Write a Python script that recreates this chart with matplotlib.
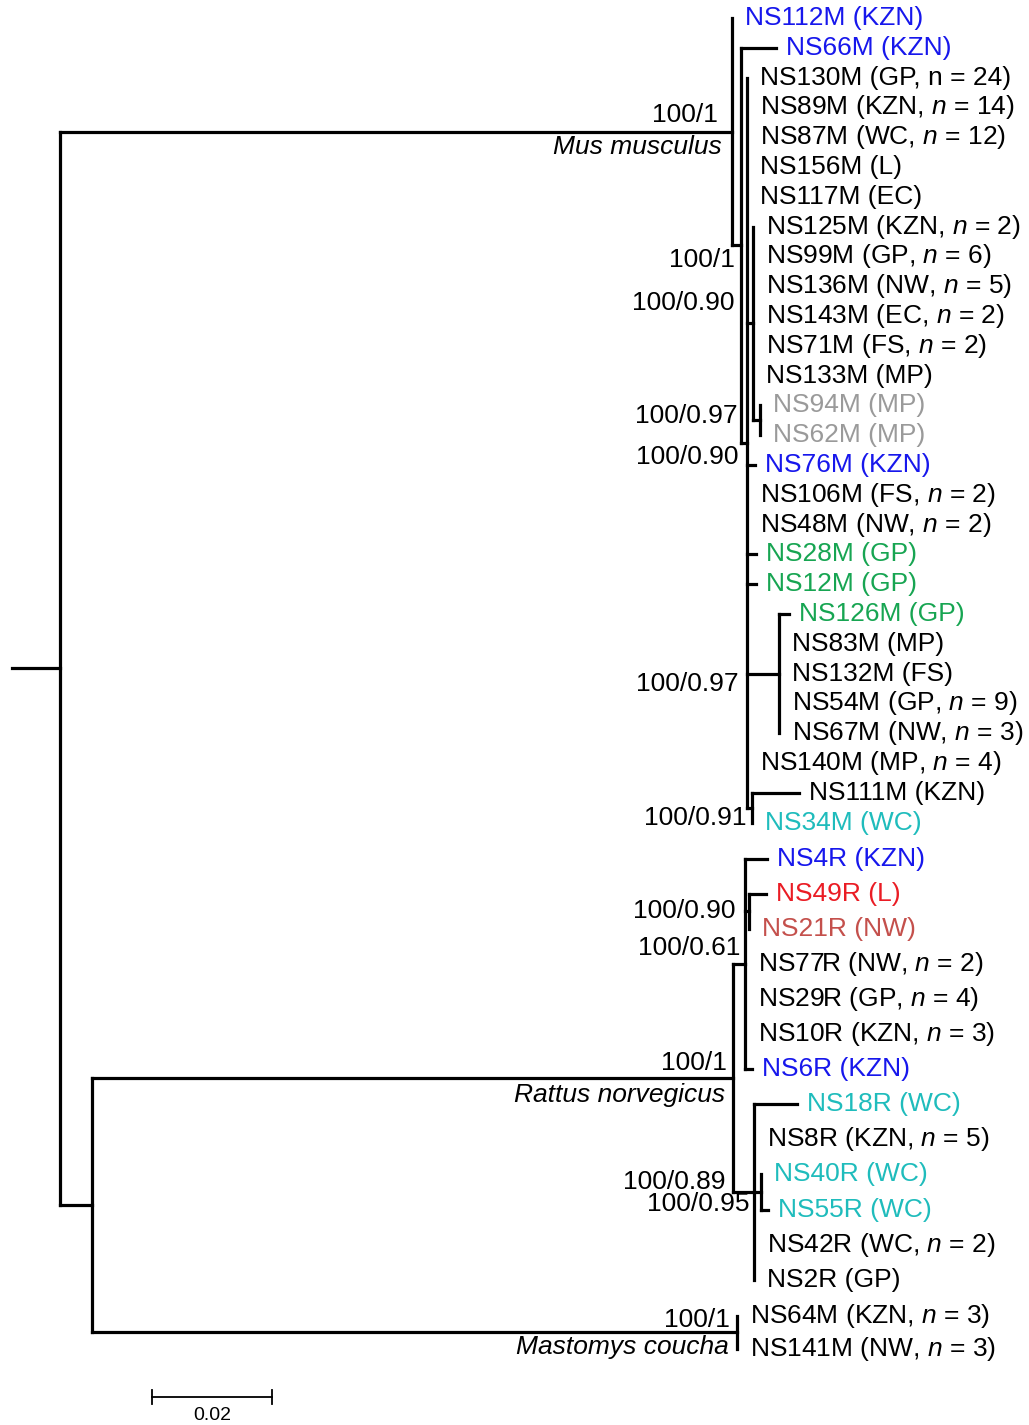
import matplotlib
matplotlib.use("Agg")
import matplotlib.pyplot as plt
from matplotlib.collections import LineCollection

plt.rcParams['font.family'] = ['Liberation Sans', 'DejaVu Sans']
plt.rcParams['mathtext.fontset'] = 'custom'
plt.rcParams['mathtext.rm'] = 'Liberation Sans'
plt.rcParams['mathtext.it'] = 'Liberation Sans:italic'

# tree with branch lengths (substitutions/site), internal nodes named
newick = ("((NS112M:0,(NS66M:0.0058,(NS130M:0,NS89M:0,NS87M:0,NS156M:0,NS117M:0,"
          "(NS125M:0,NS99M:0,NS136M:0,NS143M:0,NS71M:0,NS133M:0,(NS94M:0,NS62M:0)N94:0.0012)M4:0.001,"
          "NS76M:0.0013,NS106M:0,NS48M:0,NS28M:0.0015,NS12M:0.0015,"
          "(NS126M:0.0017,NS83M:0,NS132M:0,NS54M:0,NS67M:0)N126:0.0053,NS140M:0,"
          "(NS111M:0.0078,NS34M:0)N111:0.0008)M2:0.001)M1:0.0015)Mus:0.112,"
          "(((NS4R:0.0037,(NS49R:0.0027,NS21R:0)R2:0.0008,NS77R:0,NS29R:0,NS10R:0,NS6R:0.0013)R1:0.002,"
          "(NS18R:0.0072,NS8R:0,(NS40R:0,NS55R:0.0012)R4:0.0012,NS42R:0,NS2R:0)R3:0.0035)Rattus:0.1068,"
          "(NS64M:0,NS141M:0)Mastomys:0.1075)RM:0.0053)root:0.008;")

region = {"NS112M": "KZN", "NS66M": "KZN", "NS130M": "GP", "NS89M": "KZN", "NS87M": "WC",
          "NS156M": "L", "NS117M": "EC", "NS125M": "KZN", "NS99M": "GP", "NS136M": "NW",
          "NS143M": "EC", "NS71M": "FS", "NS133M": "MP", "NS94M": "MP", "NS62M": "MP",
          "NS76M": "KZN", "NS106M": "FS", "NS48M": "NW", "NS28M": "GP", "NS12M": "GP",
          "NS126M": "GP", "NS83M": "MP", "NS132M": "FS", "NS54M": "GP", "NS67M": "NW",
          "NS140M": "MP", "NS111M": "KZN", "NS34M": "WC", "NS4R": "KZN", "NS49R": "L",
          "NS21R": "NW", "NS77R": "NW", "NS29R": "GP", "NS10R": "KZN", "NS6R": "KZN",
          "NS18R": "WC", "NS8R": "KZN", "NS40R": "WC", "NS55R": "WC", "NS42R": "WC",
          "NS2R": "GP", "NS64M": "KZN", "NS141M": "NW"}
n_samples = {"NS130M": 24, "NS89M": 14, "NS87M": 12, "NS125M": 2, "NS99M": 6, "NS136M": 5,
             "NS143M": 2, "NS71M": 2, "NS106M": 2, "NS48M": 2, "NS54M": 9, "NS67M": 3,
             "NS140M": 4, "NS77R": 2, "NS29R": 4, "NS10R": 3, "NS8R": 5, "NS42R": 2,
             "NS64M": 3, "NS141M": 3}
upright_n = ["NS130M"]

support = {"Mus": "100/1", "M1": "100/1", "M4": "100/0.90", "N94": "100/0.97", "M2": "100/0.90",
           "N126": "100/0.97", "N111": "100/0.91", "R2": "100/0.90", "R1": "100/0.61",
           "Rattus": "100/1", "R3": "100/0.89", "R4": "100/0.95", "Mastomys": "100/1"}
species = {"Mus": "Mus musculus", "Rattus": "Rattus norvegicus", "Mastomys": "Mastomys coucha"}

BLUE, GREEN, CYAN = '#1717ec', '#17a552', '#1fbcbc'
GREY, RED, BROWN = '#9a9a9a', '#ea1c24', '#c4504c'
tip_color = {"NS112M": BLUE, "NS66M": BLUE, "NS76M": BLUE, "NS4R": BLUE, "NS6R": BLUE,
             "NS94M": GREY, "NS62M": GREY, "NS28M": GREEN, "NS12M": GREEN, "NS126M": GREEN,
             "NS34M": CYAN, "NS18R": CYAN, "NS40R": CYAN, "NS55R": CYAN,
             "NS49R": RED, "NS21R": BROWN}

# label placement offsets (px) relative to node
sup_off = {"Mus": (-14, -17), "M1": (-6, 15), "M4": (-18, -20), "N94": (-23, -4),
           "M2": (-8, 14), "N126": (-40, 10), "N111": (-5, 10), "R2": (-14, 0),
           "R1": (-4, -16), "Rattus": (-6, -15), "R3": (-28, -10), "R4": (-11, 12),
           "Mastomys": (-7, -12)}
sp_off = {"Mus": (-10, 15), "Rattus": (-7, 17), "Mastomys": (-8, 15)}
row_step = {"Mus": 29.8, "Rattus": 35.1, "Mastomys": 33.0}
clade_gap = 36.0


def parse(s, i=0):
    node = {"children": []}
    if s[i] == '(':
        i += 1
        while True:
            c, i = parse(s, i)
            node["children"].append(c)
            if s[i] == ',':
                i += 1
                continue
            i += 1
            break
    j = i
    while s[i] not in ':,);':
        i += 1
    node["name"] = s[j:i]
    node["length"] = 0.0
    if s[i] == ':':
        i += 1
        j = i
        while s[i] not in ',);':
            i += 1
        node["length"] = float(s[j:i])
    return node, i


tree, _ = parse(newick)

# layout
state = {"y": None, "clade": None}


def layout(node, x0, clade=None):
    node["x"] = x0 + node["length"] if node["name"] != "root" else 0.0
    node["x0"] = x0 if node["name"] != "root" else -node["length"]
    if node["name"] in species:
        clade = node["name"]
    if not node["children"]:
        if state["y"] is None:
            state["y"] = 18.0
        elif clade != state["clade"]:
            state["y"] += clade_gap
        else:
            state["y"] += row_step[clade]
        state["clade"] = clade
        node["y"] = state["y"]
    else:
        for c in node["children"]:
            layout(c, node["x"], clade)
        node["y"] = (node["children"][0]["y"] + node["children"][-1]["y"]) / 2


layout(tree, 0.0)

fig = plt.figure(figsize=(10.29, 14.25), dpi=100)
ax = fig.add_axes([0, 0, 1, 1])
PX = 1 / 6000.0  # substitutions per pixel
ax.set_xlim(-60 * PX, 969 * PX)
ax.set_ylim(1425, 0)
ax.axis('off')

segs = []
pt = 0.72  # points per pixel


def draw(node):
    if node["x"] > node["x0"]:
        segs.append([(node["x0"], node["y"]), (node["x"], node["y"])])
    if node["children"]:
        ys = [c["y"] for c in node["children"]]
        segs.append([(node["x"], min(ys)), (node["x"], max(ys))])
        for c in node["children"]:
            draw(c)
        nm = node["name"]
        if nm in support:
            dx, dy = sup_off[nm]
            ax.annotate(support[nm], (node["x"], node["y"]), xytext=(dx * pt, -dy * pt),
                        textcoords='offset points', ha='right', va='center', fontsize=19)
        if nm in species:
            dx, dy = sp_off[nm]
            ax.annotate(species[nm], (node["x"], node["y"]), xytext=(dx * pt, -dy * pt),
                        textcoords='offset points', ha='right', va='center', fontsize=19,
                        style='italic')
    else:
        nm = node["name"]
        parts = [region[nm]]
        if nm in n_samples:
            nsym = "n" if nm in upright_n else r"$\mathit{n}$"
            parts.append(f"{nsym} = {n_samples[nm]}")
        label = f"{nm} ({', '.join(parts)})"
        gap = 10 if node["length"] > 0 else 13
        ax.annotate(label, (node["x"], node["y"]), xytext=(gap * pt, 0),
                    textcoords='offset points', ha='left', va='center', fontsize=19,
                    color=tip_color.get(nm, 'black'))


draw(tree)
ax.add_collection(LineCollection(segs, colors='black', linewidths=2.3, capstyle='projecting'))

# scale bar
sb_x0, sb_len, sb_y = 92 * PX, 0.02, 1397
ax.plot([sb_x0, sb_x0 + sb_len], [sb_y, sb_y], color='black', lw=1.3)
for xx in (sb_x0, sb_x0 + sb_len):
    ax.plot([xx, xx], [sb_y - 7, sb_y + 7], color='black', lw=1.3)
ax.text(sb_x0 + sb_len / 2, 1416, "0.02", ha='center', va='center', fontsize=14)

fig.savefig("out.png", dpi=100, facecolor='white')
